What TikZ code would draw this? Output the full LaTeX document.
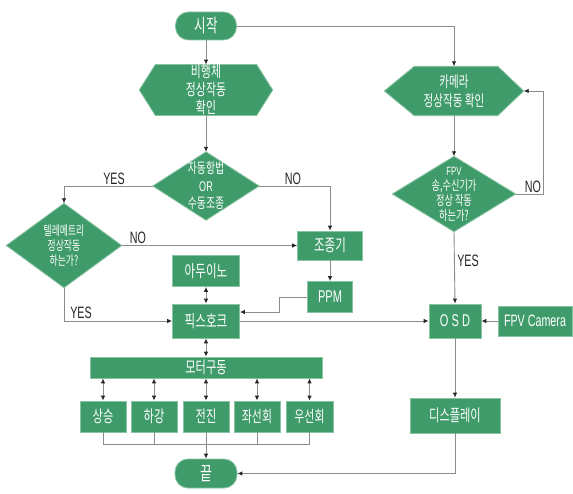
\documentclass[tikz,border=0pt]{standalone}
\usepackage{fontspec}
\newfontfamily\kr[FakeStretch=0.68]{Noto Sans CJK KR}
\newfontfamily\lat[FakeStretch=0.65]{Liberation Sans}
\usetikzlibrary{arrows.meta,backgrounds}
\definecolor{gfill}{HTML}{3F9B6A}
\definecolor{gedge}{HTML}{86C4A2}
\definecolor{lgray}{HTML}{8C8C8C}
\tikzset{
  box/.style={rectangle, fill=gfill, draw=gedge, line width=0.8pt, text=white, inner sep=0pt, align=center},
  term/.style={box, rounded corners=13pt},
  holder/.style={rectangle, inner sep=0pt, text=white, align=center},
  shapefill/.style={fill=gfill, draw=gedge, line width=0.8pt},
  line/.style={draw=lgray, line width=0.9pt},
  arr/.style={line, -{Latex[length=5pt,width=4.5pt,color=black!85]}},
  darr/.style={line, {Latex[length=5pt,width=4.5pt,color=black!85]}-{Latex[length=5pt,width=4.5pt,color=black!85]}},
  lab/.style={font=\lat\fontsize{16.5}{18}\selectfont, text=black!85, inner sep=0pt, anchor=south},
  kt/.style={font=\kr\fontsize{#1}{#1}\selectfont},
}
\begin{document}
\begin{tikzpicture}[x=1pt,y=-1pt]
\useasboundingbox (0,0) rectangle (573,494);

% terminals
\node[term, minimum width=61pt, minimum height=28pt, kt=18.5] (start) at (206,26) {시작};
\node[term, minimum width=62pt, minimum height=29pt, kt=19] (end) at (206,473.5) {끝};

% hexagons
\node[holder, minimum width=133pt, minimum height=48pt, font=\kr\fontsize{16}{18}\selectfont] (fly) at (206,90) {비행체\\정상작동\\확인};
\node[holder, minimum width=139pt, minimum height=49pt, font=\kr\fontsize{15.5}{18.5}\selectfont] (cam) at (454,91) {카메라\\정상작동 확인};

% diamonds
\node[holder, minimum width=106pt, minimum height=68pt, font=\kr\fontsize{14.5}{17.5}\selectfont] (auto) at (206,186) {자동항법\\{\lat\fontsize{14}{14}\selectfont OR}\\수동조종};
\node[holder, minimum width=115pt, minimum height=84pt, font=\kr\fontsize{13}{15}\selectfont] (tele) at (64,245.5) {텔레메트리\\정상작동\\하는가?};
\node[holder, minimum width=123pt, minimum height=75pt, font=\kr\fontsize{13.5}{15}\selectfont] (fpv) at (454,194) {{\lat\fontsize{12}{12}\selectfont FPV}\\송,수신기가\\정상 작동\\하는가?};

\begin{pgfonlayer}{background}
\fill[white] (0,0) rectangle (573,494);
\fill[shapefill] (fly.west) -- ([xshift=16pt]fly.north west) -- ([xshift=-16pt]fly.north east) -- (fly.east) -- ([xshift=-16pt]fly.south east) -- ([xshift=16pt]fly.south west) -- cycle;
\fill[shapefill] (cam.west) -- ([xshift=30pt]cam.north west) -- ([xshift=-26pt]cam.north east) -- (cam.east) -- ([xshift=-26pt]cam.south east) -- ([xshift=30pt]cam.south west) -- cycle;
\fill[shapefill] (auto.north) -- (auto.east) -- (auto.south) -- (auto.west) -- cycle;
\fill[shapefill] (tele.north) -- (tele.east) -- (tele.south) -- (tele.west) -- cycle;
\fill[shapefill] (fpv.north) -- (fpv.east) -- (fpv.south) -- (fpv.west) -- cycle;
\end{pgfonlayer}

% boxes
\node[box, minimum width=65pt, minimum height=29pt, kt=17] (ctrl) at (330,245.5) {조종기};
\node[box, minimum width=45pt, minimum height=31pt, font=\lat\fontsize{17}{17}\selectfont] (ppm) at (330,297) {PPM};
\node[box, minimum width=67pt, minimum height=31pt, kt=17] (ard) at (206,271) {아두이노};
\node[box, minimum width=67pt, minimum height=34pt, kt=17] (pix) at (206,321) {픽스호크};
\node[box, minimum width=52pt, minimum height=34pt, font=\lat\fontsize{17}{17}\selectfont] (osd) at (455,321) {O S D};
\node[box, minimum width=74pt, minimum height=30pt, font=\lat\fontsize{16.5}{16.5}\selectfont] (fpvcam) at (535,321) {FPV Camera};
\node[box, minimum width=90pt, minimum height=35pt, kt=16.5] (disp) at (455,415.5) {디스플레이};
\node[box, minimum width=232pt, minimum height=21pt, kt=16.5] (motor) at (206,367.5) {모터구동};
\node[box, minimum width=46pt, minimum height=31pt, kt=16.5] (up) at (103,416.5) {상승};
\node[box, minimum width=46pt, minimum height=31pt, kt=16.5] (down) at (154,416.5) {하강};
\node[box, minimum width=46pt, minimum height=31pt, kt=16.5] (fwd) at (206,416.5) {전진};
\node[box, minimum width=46pt, minimum height=31pt, kt=16] (left) at (257,416.5) {좌선회};
\node[box, minimum width=47pt, minimum height=31pt, kt=16] (right) at (309.5,416.5) {우선회};

\coordinate (ppmbend) at (279,297);
\coordinate (fpvno) at (543,194);
\coordinate (bus) at (0,444);

% connectors
\draw[arr] (start.east) -- (start.east -| cam.north) -- (cam.north);
\draw[arr] (start.south) -- (fly.north);
\draw[arr] (fly.south) -- (auto.north);
\draw[arr] (auto.west) -- (auto.west -| tele.north) -- (tele.north);
\node[lab] (yes1) at (114,185) {YES};
\draw[arr] (auto.east) -- (auto.east -| ctrl.north) -- (ctrl.north);
\node[lab] (no1) at (293,185) {NO};
\draw[arr] (tele.east) -- (ctrl.west);
\node[lab] (no2) at (138,244) {NO};
\draw[arr] (tele.south) -- (tele.south |- pix.west) -- (pix.west);
\node[lab] (yes2) at (81,319) {YES};
\draw[arr] (ctrl.south) -- (ppm.north);
\draw[arr] (ppm.west) -- (ppmbend) |- ([yshift=9pt]pix.east);
\draw[darr] (ard.south) -- (pix.north);
\draw[arr] (pix.east) -- (osd.west);
\draw[arr] (cam.south) -- (fpv.north);
\draw[arr] (fpv.east) -- (fpvno) |- (cam.east);
\node[lab] (no3) at (533,193) {NO};
\draw[arr] (fpv.south) -- (osd.north);
\node[lab, anchor=center] (yes3) at (468,261) {YES};
\draw[arr] (fpvcam.west) -- (osd.east);
\draw[arr] (osd.south) -- (disp.north);
\draw[arr] (disp.south) |- (end.east);
\draw[darr] (pix.south) -- (motor.north);
\foreach \b in {up,down,fwd,left,right}{
  \draw[darr] (motor.south -| \b.north) -- (\b.north);
}
\draw[line] (up.south) |- (right.south |- bus) -- (right.south);
\draw[line] (down.south) -- (down.south |- bus);
\draw[line] (left.south) -- (left.south |- bus);
\draw[arr] (fwd.south) -- (end.north);
\end{tikzpicture}
\end{document}
